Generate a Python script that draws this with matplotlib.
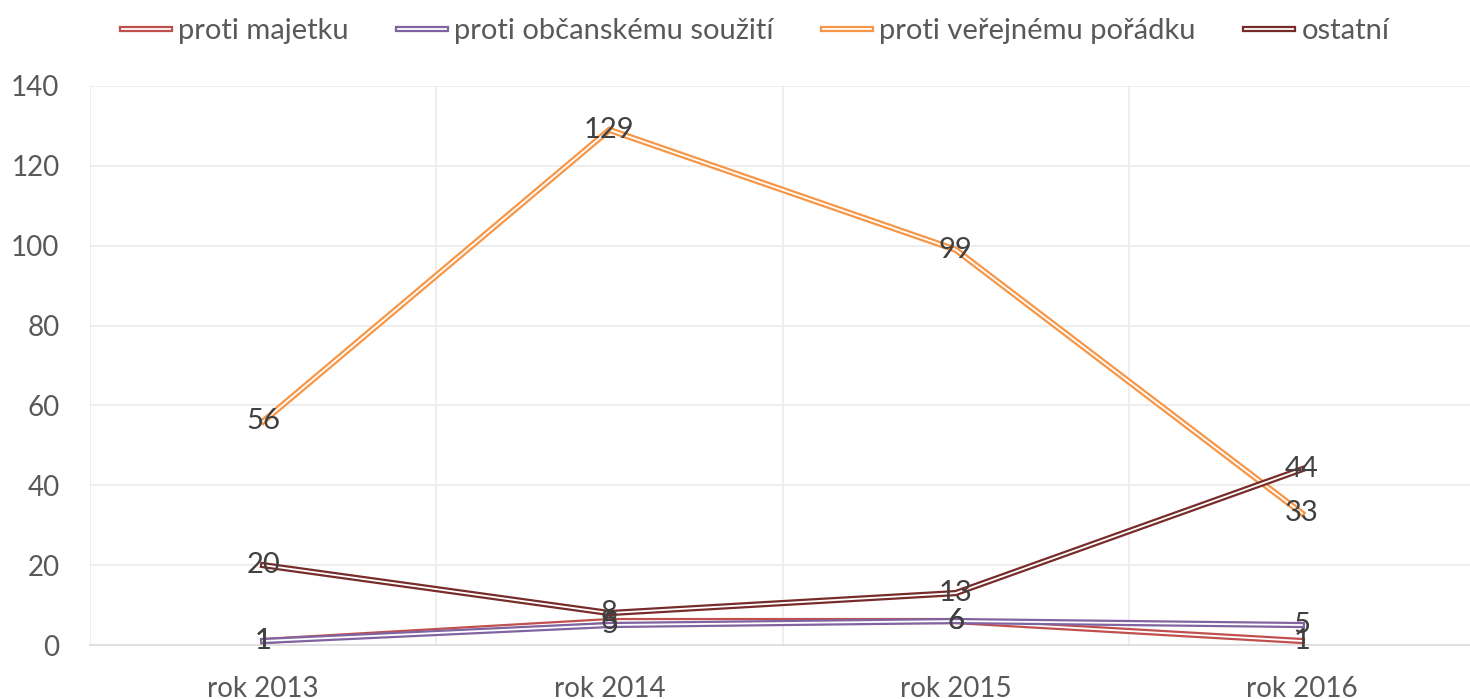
import matplotlib
matplotlib.use("Agg")
import matplotlib.pyplot as plt
import matplotlib.patheffects as pe
import numpy as np

# data
roky = ["rok 2013", "rok 2014", "rok 2015", "rok 2016"]
proti_majetku = [1, 6, 6, 1]
proti_souziti = [1, 5, 6, 5]
proti_poradku = [56, 129, 99, 33]
ostatni = [20, 8, 13, 44]

series = [
    ("proti majetku", proti_majetku, "#c0504d"),
    ("proti občanskému soužití", proti_souziti, "#8064a2"),
    ("proti veřejnému pořádku", proti_poradku, "#f79646"),
    ("ostatní", ostatni, "#772c2a"),
]

plt.rcParams['font.family'] = ['Lato', 'DejaVu Sans']

fig = plt.figure(figsize=(14.7, 6.99), dpi=100)
ax = fig.add_axes([90/1470, 1-645/699, 1385/1470, (645-86)/699])

x = np.arange(len(roky))

for name, vals, col in series:
    ax.plot(x, vals, color="white", lw=1.3, label=name, solid_joinstyle="miter",
            path_effects=[pe.Stroke(linewidth=4.5, foreground=col), pe.Normal()], zorder=3)

# data labels, centred on points
for name, vals, col in series:
    for xi, v in zip(x, vals):
        ax.text(xi, v, str(v), ha="center", va="center", fontsize=21, color="#404040", zorder=5)

ax.set_xlim(-0.5, 3.5)
ax.set_ylim(0, 140)
ax.set_yticks(range(0, 141, 20))
ax.set_xticks(x)
ax.set_xticklabels(roky)

# gridlines
for yv in range(20, 141, 20):
    ax.axhline(yv, color="#ebebeb", lw=1.2, zorder=0)
for xv in [-0.5, 0.5, 1.5, 2.5]:
    ax.axvline(xv, color="#ebebeb", lw=1.2, zorder=0)

for s in ["top", "right", "left"]:
    ax.spines[s].set_visible(False)
ax.spines["bottom"].set_color("#d9d9d9")
ax.spines["bottom"].set_linewidth(1.2)

ax.tick_params(axis="both", length=0, labelsize=20, labelcolor="#595959")
ax.tick_params(axis="y", pad=22)
ax.tick_params(axis="x", pad=22)

leg = fig.legend(loc="upper center", bbox_to_anchor=(0.514, 1.012), ncol=4, frameon=False,
                 fontsize=21, handlelength=1.65, columnspacing=1.7, handletextpad=0.27)
for t in leg.get_texts():
    t.set_color("#595959")

fig.savefig("out.png", dpi=100)
